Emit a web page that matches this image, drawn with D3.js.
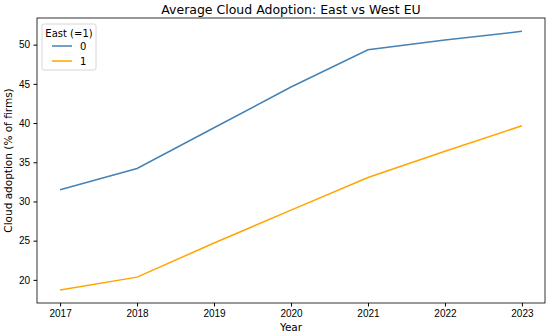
<!DOCTYPE html>
<html>
<head>
<meta charset="utf-8">
<script src="https://cdn.jsdelivr.net/npm/d3@7"></script>
<style>
  body { margin: 0; background: #fff; }
  svg { font-family: "DejaVu Sans", sans-serif; }
  .tick text { font-size: 10px; fill: #000; }
  .tick line, .domain { stroke: #000; }
</style>
</head>
<body>
<script>
const years = [2017, 2018, 2019, 2020, 2021, 2022, 2023];
const westValues = [31.5, 34.2, 39.4, 44.6, 49.35, 50.6, 51.7];
const eastValues = [18.7, 20.35, 24.7, 28.9, 33.05, 36.4, 39.65];
const seriesNames = ['0', '1'];
const seriesColors = ['#4682b4', '#ffa500'];
const yTicks = [20, 25, 30, 35, 40, 45, 50];

const W = 550, H = 335;
const margin = { left: 37, right: 5, top: 18, bottom: 32 };
const innerW = W - margin.left - margin.right;
const innerH = H - margin.top - margin.bottom;

const svg = d3.select('body').append('svg')
    .attr('width', W)
    .attr('height', H);

const g = svg.append('g')
    .attr('transform', `translate(${margin.left},${margin.top})`);

const x = d3.scaleLinear().domain([2016.7, 2023.3]).range([0, innerW]);
const y = d3.scaleLinear().domain([17.05, 53.4]).range([innerH, 0]);

g.append('g')
    .attr('transform', `translate(0,${innerH})`)
    .call(d3.axisBottom(x).tickValues(years).tickFormat(d3.format('d')).tickSize(3.5).tickPadding(3.5));

g.append('g')
    .call(d3.axisLeft(y).tickValues(yTicks).tickSize(3.5).tickPadding(3.5));

g.selectAll('.domain').remove();
g.append('rect')
    .attr('width', innerW).attr('height', innerH)
    .attr('fill', 'none').attr('stroke', '#000').attr('stroke-width', 0.8);

const series = [westValues, eastValues];
const line = d3.line().x((d, i) => x(years[i])).y(d => y(d));

g.selectAll('path.series').data(series)
    .enter().append('path')
    .attr('class', 'series')
    .attr('d', line)
    .attr('fill', 'none')
    .attr('stroke', (d, i) => seriesColors[i])
    .attr('stroke-width', 1.5);

svg.append('text')
    .attr('x', margin.left + innerW / 2)
    .attr('y', 14)
    .attr('text-anchor', 'middle')
    .style('font-size', '12.5px')
    .text('Average Cloud Adoption: East vs West EU');

svg.append('text')
    .attr('x', margin.left + innerW / 2)
    .attr('y', 331)
    .attr('text-anchor', 'middle')
    .style('font-size', '10.5px')
    .text('Year');

svg.append('text')
    .attr('transform', `translate(12,${margin.top + innerH / 2}) rotate(-90)`)
    .attr('text-anchor', 'middle')
    .style('font-size', '10.5px')
    .text('Cloud adoption (% of firms)');

// legend
const legend = g.append('g').attr('transform', 'translate(5,6)');
legend.append('rect')
    .attr('width', 54).attr('height', 46)
    .attr('rx', 2)
    .attr('fill', '#fff').attr('fill-opacity', 0.8)
    .attr('stroke', '#ccc').attr('stroke-width', 0.8);
legend.append('text')
    .attr('x', 27).attr('y', 13)
    .attr('text-anchor', 'middle')
    .style('font-size', '10px')
    .text('East (=1)');
seriesNames.forEach((name, i) => {
    const ly = 22 + i * 15;
    legend.append('line')
        .attr('x1', 10).attr('x2', 30)
        .attr('y1', ly).attr('y2', ly)
        .attr('stroke', seriesColors[i]).attr('stroke-width', 1.5);
    legend.append('text')
        .attr('x', 38).attr('y', ly + 3.5)
        .style('font-size', '10px')
        .text(name);
});
</script>
</body>
</html>
